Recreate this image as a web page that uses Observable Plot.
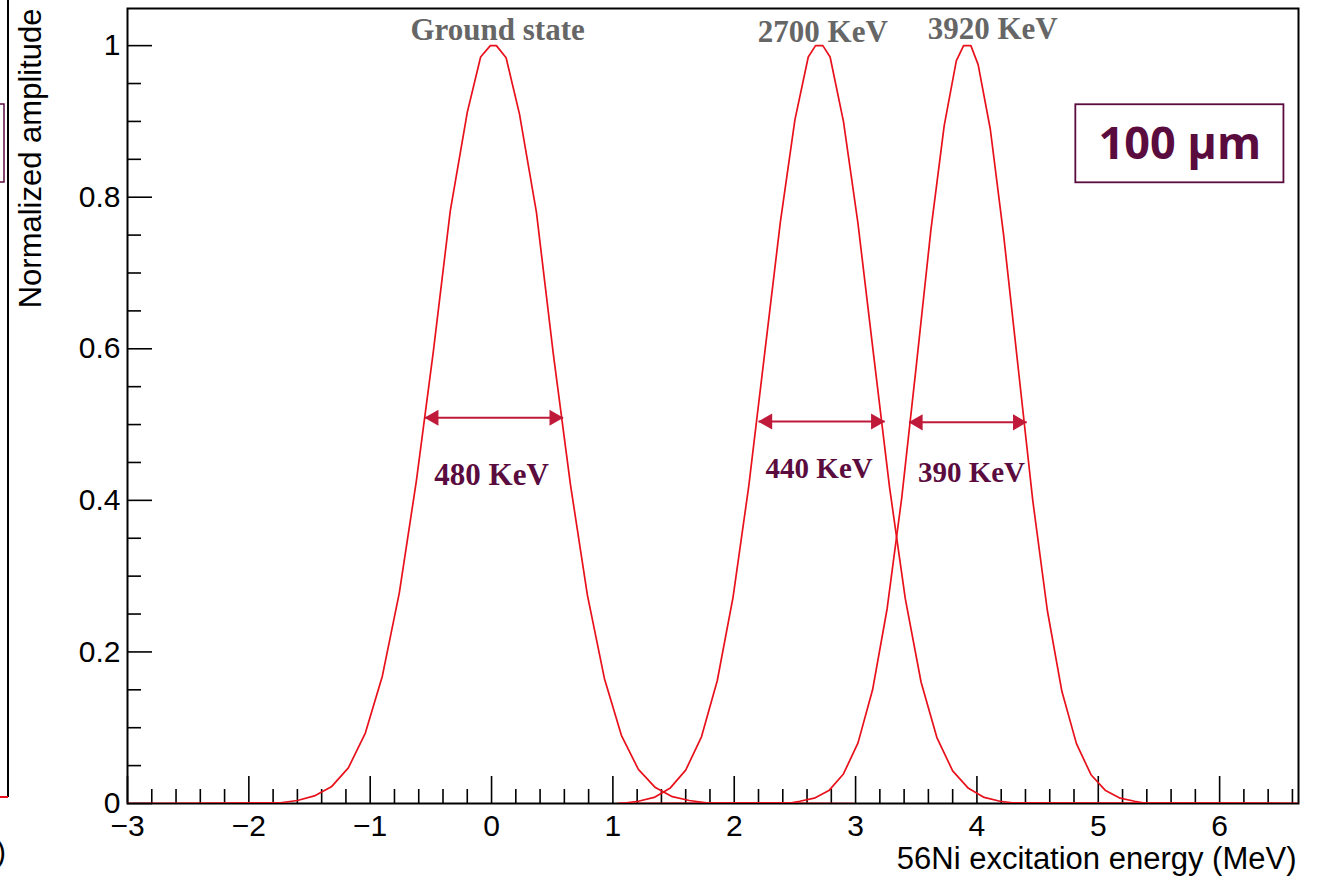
<!DOCTYPE html>
<html>
<head>
<meta charset="utf-8">
<script src="https://cdn.jsdelivr.net/npm/d3@7"></script>
<script src="https://cdn.jsdelivr.net/npm/@observablehq/plot@0.6"></script>
<style>
  html, body { margin: 0; padding: 0; background: #fff; }
  #chart svg { display: block; overflow: visible; }
</style>
</head>
<body>
<div id="chart"></div>
<script>
// ---- Data ----
// Ground state (0 MeV)
const gsEnergy = [-3.0, -1.74, -1.60, -1.46, -1.32, -1.18, -1.04, -0.90, -0.76, -0.62, -0.48, -0.34, -0.20, -0.09, -0.01, 0.04, 0.12, 0.23, 0.37, 0.51, 0.65, 0.79, 0.93, 1.07, 1.21, 1.35, 1.49, 1.63, 1.77, 2.98];
const gsAmp    = [0, 0.001, 0.004, 0.010, 0.022, 0.047, 0.093, 0.168, 0.278, 0.425, 0.596, 0.782, 0.912, 0.985, 1.0, 1.0, 0.984, 0.910, 0.780, 0.592, 0.421, 0.275, 0.165, 0.090, 0.045, 0.021, 0.009, 0.004, 0.001, 0];
// 2700 keV state
const s2700Energy = [1.04, 1.11, 1.21, 1.34, 1.47, 1.60, 1.73, 1.86, 1.99, 2.12, 2.25, 2.38, 2.50, 2.61, 2.67, 2.73, 2.79, 2.90, 3.02, 3.15, 3.28, 3.41, 3.54, 3.67, 3.80, 3.93, 4.06, 4.19, 4.29, 6.65];
const s2700Amp    = [0, 0.001, 0.003, 0.008, 0.020, 0.044, 0.088, 0.162, 0.272, 0.419, 0.593, 0.767, 0.902, 0.985, 1.0, 1.0, 0.985, 0.900, 0.765, 0.590, 0.417, 0.270, 0.160, 0.087, 0.043, 0.020, 0.008, 0.003, 0.001, 0];
// 3920 keV state
const s3920Energy = [1.04, 2.47, 2.54, 2.66, 2.78, 2.90, 3.02, 3.14, 3.26, 3.38, 3.50, 3.62, 3.73, 3.83, 3.89, 3.95, 4.01, 4.11, 4.22, 4.34, 4.46, 4.58, 4.70, 4.82, 4.94, 5.06, 5.18, 5.30, 5.37, 6.65];
const s3920Amp    = [0, 0.001, 0.003, 0.007, 0.017, 0.039, 0.080, 0.150, 0.257, 0.403, 0.577, 0.756, 0.894, 0.980, 1.0, 1.0, 0.975, 0.890, 0.750, 0.575, 0.400, 0.255, 0.148, 0.079, 0.038, 0.017, 0.007, 0.003, 0.001, 0];

// Peak labels
const peakLabels = ["Ground state", "2700 KeV", "3920 KeV"];
const peakLabelE = [0.05, 2.73, 4.13];
const peakLabelA = [1.020, 1.018, 1.022];

// FWHM arrows and labels
const fwhmLabels = ["480 KeV", "440 KeV", "390 KeV"];
const fwhmLeft   = [-0.55, 2.20, 3.44];
const fwhmRight  = [0.59, 3.24, 4.41];
const fwhmLevel  = [0.509, 0.504, 0.503];
const fwhmLabelE = [0.0, 2.70, 3.955];
const fwhmLabelA = [0.434, 0.442, 0.437];
const fwhmFont   = [31, 29, 29];

// Thickness box
const boxText = "100 µm";
const boxE1 = 4.815, boxE2 = 6.53, boxA1 = 0.819, boxA2 = 0.922;

// Ticks
const xMajor = [-3, -2, -1, 0, 1, 2, 3, 4, 5, 6];
const xMinor = d3.range(-30, 67, 2).map(v => v / 10).filter(v => !xMajor.includes(v));
const yMajor = [0, 0.2, 0.4, 0.6, 0.8, 1];
const yMinor = [0.05, 0.1, 0.15, 0.25, 0.3, 0.35, 0.45, 0.5, 0.55, 0.65, 0.7, 0.75, 0.85, 0.9, 0.95];

const xTitle = "56Ni excitation energy (MeV)";
const yTitle = "Normalized amplitude";

// ---- Build tables ----
const series = [
  ...gsEnergy.map((e, i) => ({state: "gs", e, a: gsAmp[i]})),
  ...s2700Energy.map((e, i) => ({state: "2700", e, a: s2700Amp[i]})),
  ...s3920Energy.map((e, i) => ({state: "3920", e, a: s3920Amp[i]}))
];
const peaks = peakLabels.map((t, i) => ({t, e: peakLabelE[i], a: peakLabelA[i]}));
const fwhm = fwhmLabels.map((t, i) => ({t, e1: fwhmLeft[i], e2: fwhmRight[i], a: fwhmLevel[i], le: fwhmLabelE[i], la: fwhmLabelA[i], fs: fwhmFont[i]}));

const RED = "#e8101a";
const ARROW = "#c01a3a";
const PURPLE = "#5b0c3e";
const fmt = d3.format("~g");

const plot = Plot.plot({
  width: 1317,
  height: 876,
  marginLeft: 127,
  marginRight: 19,
  marginTop: 8,
  marginBottom: 73,
  style: {fontFamily: "'Liberation Sans', Arial, Helvetica, sans-serif", fontSize: "30px", background: "#fff", color: "#000"},
  x: {domain: [-3, 6.65]},
  y: {domain: [0, 1.049]},
  marks: [
    Plot.frame({stroke: "#000", strokeWidth: 2}),
    Plot.axisX({ticks: xMajor, tickSize: -27, tickPadding: 38, label: null, strokeWidth: 1.6, fontSize: 30, tickFormat: fmt}),
    Plot.axisX({ticks: xMinor, tickSize: -14, tickFormat: () => "", label: null, strokeWidth: 1.6}),
    Plot.axisY({ticks: yMajor, tickSize: -25, tickPadding: 32, label: null, strokeWidth: 1.6, fontSize: 30, tickFormat: fmt}),
    Plot.axisY({ticks: yMinor, tickSize: -14, tickFormat: () => "", label: null, strokeWidth: 1.6}),
    Plot.text([xTitle], {frameAnchor: "bottom-right", textAnchor: "end", dx: -2, dy: 65, fontSize: 31}),
    Plot.text([yTitle], {frameAnchor: "top-left", textAnchor: "end", rotate: -90, dx: -109, dy: 0, fontSize: 31}),
    Plot.line(series, {x: "e", y: "a", z: "state", stroke: RED, strokeWidth: 1.7, clip: true}),
    Plot.text(peaks, {x: "e", y: "a", text: "t", fill: "#666", fontFamily: "'Liberation Serif', 'Times New Roman', serif", fontWeight: "bold", fontSize: 31}),
    Plot.link(fwhm, {x1: "e1", x2: "e2", y1: "a", y2: "a", stroke: ARROW, strokeWidth: 2}),
    Plot.dot(fwhm, {x: "e1", y: "a", symbol: "triangle", r: 6, rotate: -90, dx: 9, fill: ARROW, stroke: null}),
    Plot.dot(fwhm, {x: "e2", y: "a", symbol: "triangle", r: 6, rotate: 90, dx: -9, fill: ARROW, stroke: null}),
    Plot.text(fwhm, {x: "le", y: "la", text: "t", fill: PURPLE, fontFamily: "'Liberation Serif', 'Times New Roman', serif", fontWeight: "bold", fontSize: d => d.fs}),
    Plot.rect([0], {x1: boxE1, x2: boxE2, y1: boxA1, y2: boxA2, fill: "#fff", stroke: PURPLE, strokeWidth: 1.8}),
    Plot.text([boxText], {x: (boxE1 + boxE2) / 2, y: (boxA1 + boxA2) / 2, fill: PURPLE, fontFamily: "'Open Sans', Lato, sans-serif", fontWeight: "bold", fontSize: 45, dy: 1})
  ]
});

// Fragments of the neighbouring panel visible at the left edge
const svg = d3.select(plot);
svg.append("line").attr("x1", 8).attr("x2", 8).attr("y1", 0).attr("y2", 797).attr("stroke", "#000").attr("stroke-width", 2);
svg.append("line").attr("x1", 0).attr("x2", 8).attr("y1", 797).attr("y2", 797).attr("stroke", RED).attr("stroke-width", 2);
svg.append("rect").attr("x", -6).attr("y", 104).attr("width", 10).attr("height", 78).attr("fill", "none").attr("stroke", PURPLE).attr("stroke-width", 1.5);
svg.append("text").attr("x", 1).attr("y", 862).attr("font-size", 30).attr("font-family", "'Liberation Sans', Arial, sans-serif").text(")");

document.getElementById("chart").appendChild(plot);
</script>
</body>
</html>
